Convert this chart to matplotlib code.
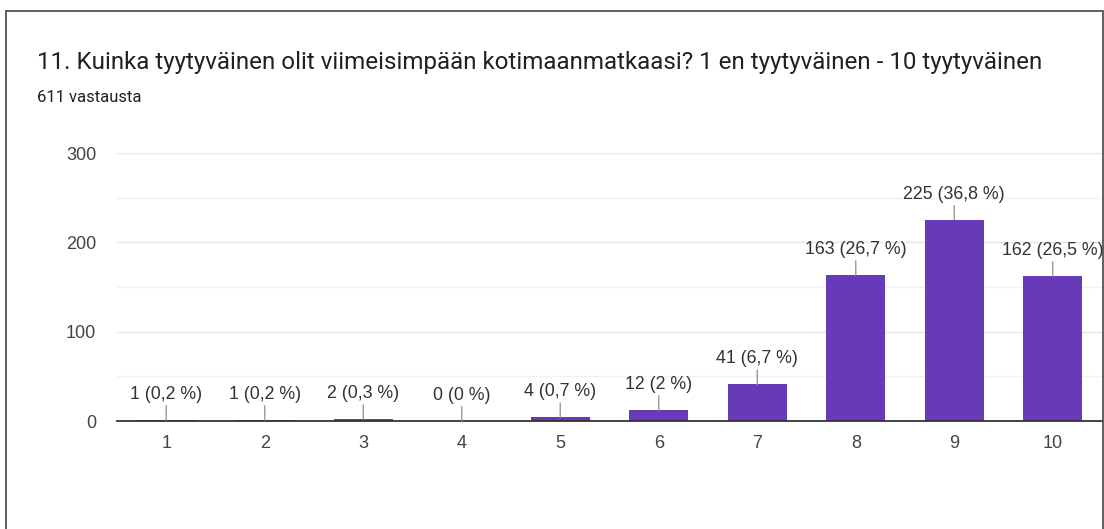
import matplotlib.pyplot as plt
from matplotlib.patches import Rectangle

categories = ['1', '2', '3', '4', '5', '6', '7', '8', '9', '10']
counts = [1, 1, 2, 0, 4, 12, 41, 163, 225, 162]
total = 611

title = '11. Kuinka tyytyväinen olit viimeisimpään kotimaanmatkaasi? 1 en tyytyväinen - 10 tyytyväinen'
subtitle = '611 vastausta'

purple = '#673AB7'
textcol = '#444444'

fig = plt.figure(figsize=(11.04, 5.29), dpi=100)
W, H = 1104, 529

# card border
fig.patches.append(Rectangle((6 / W, -0.01), (1103 - 6) / W, (H - 11) / H + 0.01,
                             transform=fig.transFigure, fill=False,
                             edgecolor='#444444', linewidth=1.2))

fig.text(37 / W, 1 - 63 / H, title, fontsize=17.4, family='Roboto',
         color='#202124', va='center', ha='left')
fig.text(37 / W, 1 - 98 / H, subtitle, fontsize=12, family='Roboto',
         color='#202124', va='center', ha='left')

ax = fig.add_axes([117 / W, 108 / H, (1102 - 117) / W, 268 / H])
x = list(range(len(categories)))
ax.bar(x, counts, width=0.6, color=purple, zorder=3)

ax.set_xlim(-0.5, len(categories) - 0.5)
ax.set_ylim(0, 300)
ax.set_yticks([0, 100, 200, 300])
ax.set_yticks([50, 150, 250], minor=True)
ax.set_xticks(x)
ax.set_xticklabels(categories)
ax.tick_params(axis='both', length=0, labelsize=13, labelcolor=textcol)
ax.tick_params(axis='y', which='both', length=0, pad=15)
ax.tick_params(axis='x', pad=10)
for lab in ax.get_xticklabels() + ax.get_yticklabels():
    lab.set_family('Liberation Sans')

ax.grid(axis='y', which='major', color='#e6e6e6', linewidth=1, zorder=0)
ax.grid(axis='y', which='minor', color='#f2f2f2', linewidth=1, zorder=0)
for s in ['top', 'right', 'left']:
    ax.spines[s].set_visible(False)
ax.spines['bottom'].set_color('#333333')
ax.spines['bottom'].set_linewidth(1.3)
ax.spines['bottom'].set_zorder(4)

for xi, v in zip(x, counts):
    pct = f'{100 * v / total:.1f}'.replace('.', ',')
    if pct.endswith(',0'):
        pct = pct[:-2]
    ax.annotate(f'{v} ({pct} %)', xy=(xi, v), xytext=(0, 18.5),
                textcoords='offset points', ha='center', va='center',
                fontsize=12.8, color='#333333', family='Liberation Sans',
                arrowprops=dict(arrowstyle='-', color='#999999', lw=1,
                                shrinkA=0, shrinkB=0), zorder=5)

fig.savefig('out.png', dpi=100)
